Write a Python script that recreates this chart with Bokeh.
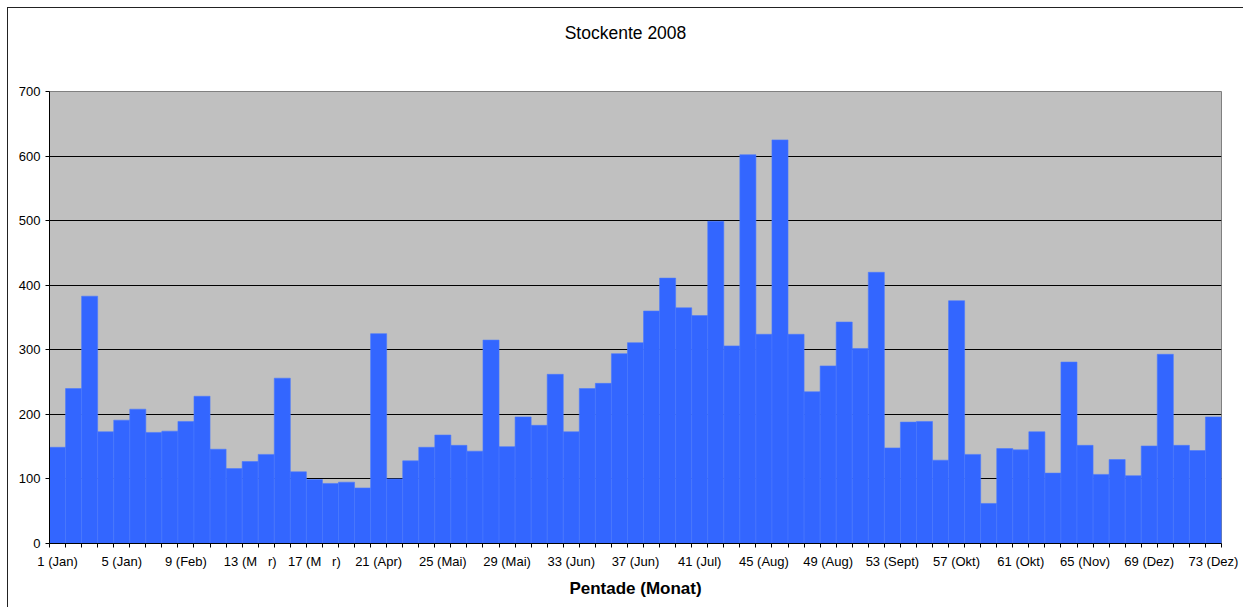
from bokeh.plotting import figure
from bokeh.models import FixedTicker, Range1d, ColumnDataSource, Div
from bokeh.layouts import column
from bokeh.embed import file_html
from bokeh.resources import INLINE

pentades = list(range(1, 74))
counts = [149, 240, 383, 173, 191, 208, 172, 174, 189, 228,
          146, 116, 127, 138, 256, 111, 99, 93, 95, 86,
          325, 100, 128, 149, 168, 152, 143, 315, 150, 196,
          183, 262, 173, 240, 248, 294, 311, 360, 411, 365,
          353, 499, 306, 602, 324, 625, 324, 235, 275, 343,
          302, 420, 148, 188, 189, 129, 376, 138, 62, 147,
          145, 173, 109, 281, 152, 107, 130, 105, 151, 293,
          152, 144, 196]
tick_positions = [1, 5, 9, 13, 17, 21, 25, 29, 33, 37, 41, 45, 49, 53, 57, 61, 65, 69, 73]
tick_labels = ["1 (Jan)", "5 (Jan)", "9 (Feb)", "13 (M\u00a0\u00a0\u00a0r)", "17 (M\u00a0\u00a0\u00a0r)",
               "21 (Apr)", "25 (Mai)", "29 (Mai)", "33 (Jun)", "37 (Jun)", "41 (Jul)", "45 (Aug)",
               "49 (Aug)", "53 (Sept)", "57 (Okt)", "61 (Okt)", "65 (Nov)", "69 (Dez)",
               "73 (Dez)"]
y_ticks = [0, 100, 200, 300, 400, 500, 600, 700]
title_text = "Stockente 2008"
x_title = "Pentade (Monat)"

FONT = "Liberation Sans"
W = 1235
TITLE_H = 50
H = 599 - TITLE_H
BL, BR, BT, BB = 41, 22, 83 - TITLE_H, 64

title_div = Div(text=title_text, width=W, height=TITLE_H,
                styles={"font-family": FONT, "font-size": "17.5px", "color": "black",
                        "text-align": "center", "line-height": "50px",
                        "padding": "0px", "margin": "0px"})

p = figure(width=W, height=H, output_backend="svg", toolbar_location=None,
           x_range=Range1d(0.5, 73.5), y_range=Range1d(0, 700),
           min_border_left=BL, min_border_right=BR, min_border_top=BT, min_border_bottom=BB)

p.background_fill_color = "#C0C0C0"
p.border_fill_color = "white"
p.outline_line_color = "#808080"
p.outline_line_width = 1

src = ColumnDataSource(dict(x=pentades, top=counts))
p.vbar(x="x", top="top", width=1.0, source=src, fill_color="#3366FF",
       line_color="#4A78FF", line_width=0.6)

# x axis
xt = FixedTicker(ticks=tick_positions, minor_ticks=[i + 0.5 for i in range(0, 74)])
p.xaxis.ticker = xt
p.xaxis.major_label_overrides = {t: l for t, l in zip(tick_positions, tick_labels)}
p.xaxis.major_tick_line_color = None
p.xaxis.major_tick_out = 0
p.xaxis.major_tick_in = 0
p.xaxis.minor_tick_line_color = "black"
p.xaxis.minor_tick_out = 4
p.xaxis.minor_tick_in = 0
p.xaxis.major_label_standoff = 6
p.xaxis.major_label_text_font = FONT
p.xaxis.major_label_text_font_size = "13px"
p.xaxis.major_label_text_color = "black"
p.xaxis.axis_line_color = "black"
p.xaxis.axis_label = x_title
p.xaxis.axis_label_text_font = FONT
p.xaxis.axis_label_text_font_size = "17px"
p.xaxis.axis_label_text_font_style = "bold"
p.xaxis.axis_label_text_color = "black"
p.xaxis.axis_label_standoff = 7

# y axis
p.yaxis.ticker = FixedTicker(ticks=y_ticks)
p.yaxis.major_tick_out = 4
p.yaxis.major_tick_in = 0
p.yaxis.minor_tick_line_color = None
p.yaxis.major_tick_line_color = "black"
p.yaxis.axis_line_color = "black"
p.yaxis.major_label_text_font = FONT
p.yaxis.major_label_text_font_size = "13px"
p.yaxis.major_label_text_color = "black"
p.yaxis.major_label_standoff = 5

p.xgrid.grid_line_color = None
p.ygrid.ticker = FixedTicker(ticks=[100, 200, 300, 400, 500, 600])
p.ygrid.grid_line_color = "black"
p.ygrid.grid_line_width = 1

layout = column(title_div, p, spacing=0)
layout.styles = {"margin-left": "7px", "margin-top": "7px",
                 "border-left": "1px solid #222222", "border-top": "1px solid #222222"}

open("out.html", "w").write(file_html(layout, INLINE))
